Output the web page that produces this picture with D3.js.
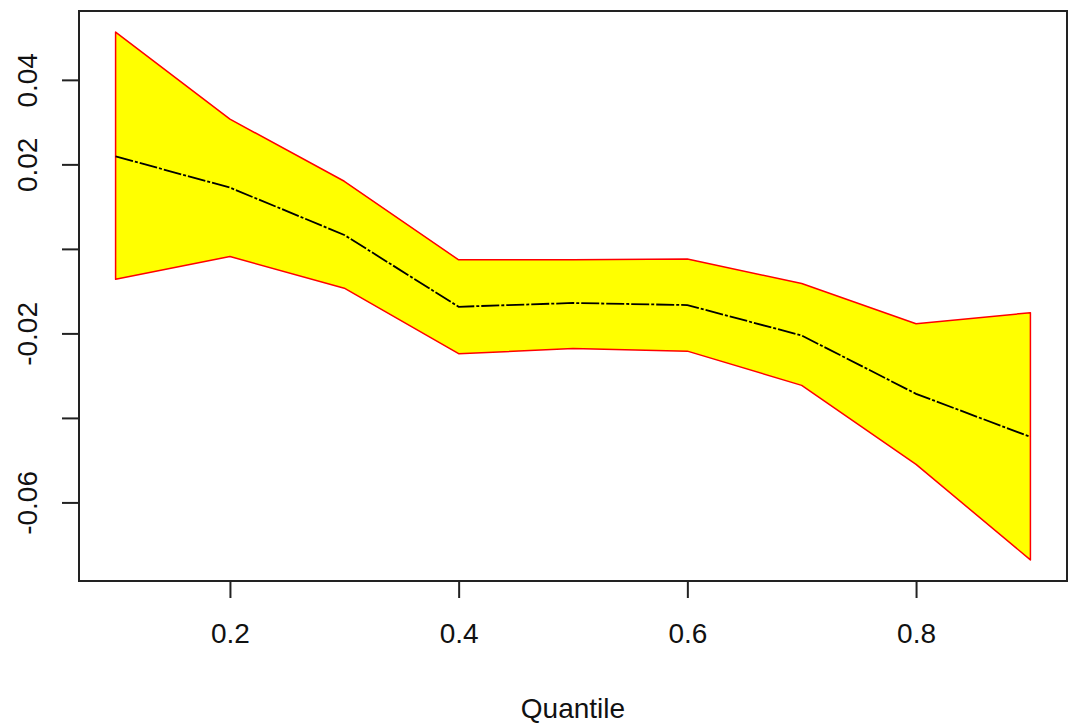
<!DOCTYPE html>
<html>
<head>
<meta charset="utf-8">
<script src="https://cdn.jsdelivr.net/npm/d3@7"></script>
<style>
  html, body { margin: 0; padding: 0; background: #fff; }
  svg { display: block; font-family: "Liberation Sans", Arial, sans-serif; }
</style>
</head>
<body>
<svg id="chart" width="1074" height="728"></svg>
<script>
// Quantile regression coefficient with its confidence band
const quantiles = [0.1, 0.2, 0.3, 0.4, 0.5, 0.6, 0.7, 0.8, 0.9];
const estimate  = [0.0219, 0.0145, 0.0033, -0.0137, -0.0128, -0.0133, -0.0205, -0.0343, -0.0445];
const upper     = [0.0513, 0.0307, 0.0160, -0.0026, -0.0026, -0.0024, -0.0082, -0.0177, -0.0151];
const lower     = [-0.0072, -0.0018, -0.0093, -0.0248, -0.0236, -0.0242, -0.0323, -0.0510, -0.0736];
const xTicks = [0.2, 0.4, 0.6, 0.8];
const yTicks = [0.04, 0.02, 0, -0.02, -0.04, -0.06];
const yTickLabels = ["0.04", "0.02", "", "-0.02", "", "-0.06"];
const xLabel = "Quantile";

const svg = d3.select("#chart");
const plotLeft = 79, plotRight = 1067, plotTop = 11, plotBottom = 581;

// 4% padding around the data range on both axes
const xr = d3.extent(quantiles);
const xpad = (xr[1] - xr[0]) * 0.04;
const yr = [d3.min(lower), d3.max(upper)];
const ypad = (yr[1] - yr[0]) * 0.04;

const x = d3.scaleLinear().domain([xr[0] - xpad, xr[1] + xpad]).range([plotLeft, plotRight]);
const y = d3.scaleLinear().domain([yr[0] - ypad, yr[1] + ypad]).range([plotBottom, plotTop]);

const rows = quantiles.map((q, i) => ({ q, est: estimate[i], hi: upper[i], lo: lower[i] }));

// Band polygon: upper edge left to right, lower edge back
const band = rows.map(d => [x(d.q), y(d.hi)])
  .concat(rows.slice().reverse().map(d => [x(d.q), y(d.lo)]));

svg.append("path")
  .attr("d", "M" + band.map(p => p.join(",")).join("L") + "Z")
  .attr("fill", "#ffff00")
  .attr("stroke", "#ff0000")
  .attr("stroke-width", 1.5)
  .attr("stroke-linejoin", "round");

svg.append("path")
  .datum(rows)
  .attr("d", d3.line().x(d => x(d.q)).y(d => y(d.est)))
  .attr("fill", "none")
  .attr("stroke", "#000")
  .attr("stroke-width", 1.8)
  .attr("stroke-dasharray", "18,2,3,2");

// Plot frame
svg.append("rect")
  .attr("x", plotLeft).attr("y", plotTop)
  .attr("width", plotRight - plotLeft).attr("height", plotBottom - plotTop)
  .attr("fill", "none")
  .attr("stroke", "#222")
  .attr("stroke-width", 2);

// X axis
const xAxis = svg.append("g")
  .attr("transform", `translate(0,${plotBottom})`)
  .call(d3.axisBottom(x).tickValues(xTicks).tickSize(17).tickPadding(25).tickFormat(d3.format(".1f")));
xAxis.select(".domain").remove();
xAxis.selectAll(".tick line").attr("stroke", "#222").attr("stroke-width", 2);
xAxis.selectAll(".tick text").attr("font-size", 28).attr("fill", "#111")
  .attr("font-family", "'Liberation Sans', Arial, sans-serif");

// Y axis with rotated labels
const yAxis = svg.append("g")
  .attr("transform", `translate(${plotLeft},0)`)
  .call(d3.axisLeft(y).tickValues(yTicks).tickSize(17).tickFormat((d, i) => yTickLabels[i]));
yAxis.select(".domain").remove();
yAxis.selectAll(".tick line").attr("stroke", "#222").attr("stroke-width", 2);
yAxis.selectAll(".tick text")
  .attr("font-size", 28).attr("fill", "#111")
  .attr("font-family", "'Liberation Sans', Arial, sans-serif")
  .attr("x", null).attr("dy", null)
  .attr("text-anchor", "middle")
  .attr("transform", "translate(-42,0) rotate(-90)");

svg.append("text")
  .attr("x", (plotLeft + plotRight) / 2)
  .attr("y", 718)
  .attr("text-anchor", "middle")
  .attr("font-size", 28)
  .attr("fill", "#111")
  .text(xLabel);
</script>
</body>
</html>
